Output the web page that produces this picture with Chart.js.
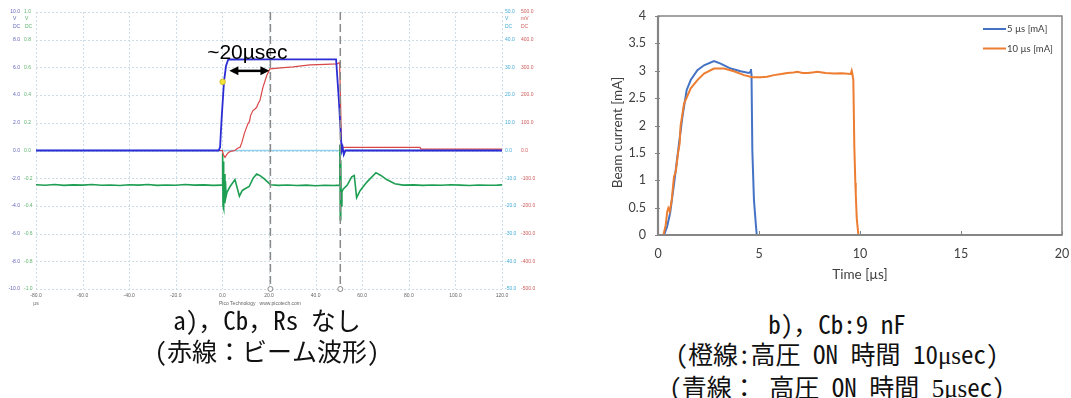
<!DOCTYPE html>
<html><head><meta charset="utf-8">
<script src="https://cdn.jsdelivr.net/npm/chart.js@4.4.1/dist/chart.umd.min.js"></script>
<style>
html,body{margin:0;padding:0;background:#fff;width:1071px;height:398px;overflow:hidden;position:relative;}
#c1{position:absolute;left:0;top:0;}
#c2{position:absolute;left:550px;top:0;}
.cap{position:absolute;font-family:"Noto Sans Mono CJK JP","Noto Sans CJK JP",monospace;font-size:25px;color:#111;text-align:center;white-space:pre;}
.mu{font-family:"Liberation Serif","DejaVu Serif",serif;}
</style></head><body>
<canvas id="c1" width="545" height="312"></canvas>
<canvas id="c2" width="521" height="300"></canvas>
<div class="cap" style="left:67px;top:304px;width:400px;line-height:31px;">a)，Cb，Rs なし<br>(赤線：ビーム波形)</div>
<div class="cap" style="left:637px;top:308px;width:400px;line-height:30px;">b)，Cb:9 nF<br>(橙線:高圧 ON 時間 10<span class="mu">μs</span>ec)<br>(青線： 高圧 ON 時間 <span class="mu">5μs</span>ec)</div>
<script>
// ---------- (a) oscilloscope data ----------
const oscXTicks = [-80,-60,-40,-20,0,20,40,60,80,100,120];
const oscXLabels = ['-80.0','-60.0','-40.0','-20.0','0.0','20.0','40.0','60.0','80.0','100.0','120.0'];
const oscVTicks = [10,8,6,4,2,0,-2,-4,-6,-8,-10];
const oscVLabels = ['10.0','8.0','6.0','4.0','2.0','0.0','-2.0','-4.0','-6.0','-8.0','-10.0'];
const oscGLabels = ['1.0','0.8','0.6','0.4','0.2','0.0','-0.2','-0.4','-0.6','-0.8','-1.0'];
const oscCLabels = ['50.0','40.0','30.0','20.0','10.0','0.0','-10.0','-20.0','-30.0','-40.0','-50.0'];
const oscRLabels = ['500.0','400.0','300.0','200.0','100.0','0.0','-100.0','-200.0','-300.0','-400.0','-500.0'];

const blueTime = [-80,-1.6,-1.0,-0.3,0.7,1.55,2.5,20,48.8,50.0,51.2,51.6,52.1,52.8,120];
const blueVolt = [0,0,0.24,2.4,5.0,6.1,6.57,6.58,6.58,3.6,0,0.25,-0.3,0,0];

const redTime = [-80,0,0.4,1.1,2.3,3.5,5.4,6.5,7.6,8.4,9.4,10.2,11.0,11.6,12.1,13.1,14.0,14.7,15.5,16.1,17.4,19.0,20.4,25,30.3,37.6,44,49.2,50.3,50.7,51.1,52,84.8,85.2,120];
const redMilliVolt = [0,0,-15,-25,-10,-3,0,8,12,30,61,80,97,104,126,144,150,156,172,180,228,270,295,298,302,309,311,313,317,180,14,11,11,5,5];

const greenTime = [-80,-76,-72,-68,-64,-60,-56,-52,-48,-44,-40,-36,-32,-28,-24,-20,-16,-12,-8,-4,-0.4,
  0.0,0.1,0.26,0.45,0.65,0.85,1.1,1.3,1.6,2.0,3.3,5.4,7.3,8.5,9.7,11.5,13.2,14.7,16,17.6,20.7,
  24,28,32,36,40,44,48,50.2,
  50.4,50.6,50.8,51.0,51.3,51.8,53.6,55.5,56.6,57.6,59.1,61.9,65.9,68,70.5,74,77.6,
  82,86,90,94,98,102,106,110,114,118,120];
const greenVolt = [-0.247,-0.251,-0.246,-0.252,-0.248,-0.25,-0.245,-0.251,-0.249,-0.253,-0.247,-0.25,-0.246,-0.252,-0.249,-0.251,-0.246,-0.25,-0.248,-0.252,-0.25,
  -0.25,-0.02,-0.40,-0.08,-0.42,-0.17,-0.38,-0.22,-0.33,-0.30,-0.26,-0.21,-0.33,-0.29,-0.276,-0.26,-0.20,-0.17,-0.18,-0.20,-0.247,
  -0.252,-0.249,-0.253,-0.25,-0.254,-0.251,-0.253,-0.25,
  0.04,-0.50,-0.07,-0.40,-0.30,-0.28,-0.25,-0.19,-0.18,-0.34,-0.29,-0.23,-0.16,-0.18,-0.21,-0.24,-0.25,
  -0.248,-0.252,-0.249,-0.251,-0.247,-0.25,-0.253,-0.249,-0.251,-0.25,-0.248];

const cyanTime = [-80,120];
const cyanVolt = [0,0];

const cursorTimes = [20.6,50.6];
const arrowSpan = [3.0,20.2];
const arrowLevel = 5.75;
const noteText = '~20µsec';
const notePos = [10.7,6.6];
const markerPos = [0.1,4.96];

// ---------- (b) beam current data ----------
const beamXTicks = [0,5,10,15,20];
const beamYTicks = [0,0.5,1,1.5,2,2.5,3,3.5,4];
const beamYLabels = ['0','0.5','1','1.5','2','2.5','3','3.5','4'];
const seriesNames = ['5 µs [mA]','10 µs [mA]'];

const time5us = [0,0.3,0.45,0.6,0.8,1.0,1.21,1.42,1.62,1.95,2.28,2.77,3.1,3.6,4.09,4.5,4.57,4.6,4.63,4.67,4.75,4.84,4.89,5.0];
const current5us = [0,0,0.15,0.4,0.95,1.55,2.16,2.65,2.83,3.01,3.1,3.175,3.13,3.04,2.99,2.96,2.98,3.03,2.92,1.55,0.64,0.21,0,0];

const time10us = [0,0.05,0.27,0.38,0.46,0.51,0.58,0.68,0.79,0.88,0.99,1.07,1.12,1.29,1.62,1.95,2.28,2.77,3.27,3.76,4.26,4.67,5.08,5.4,5.74,6.1,6.4,6.7,6.9,7.15,7.4,7.65,7.89,8.3,8.71,9.1,9.54,9.59,9.62,9.67,9.72,9.77,9.79,9.84,9.92,10.0];
const current10us = [0,0,0,0.18,0.43,0.49,0.43,0.64,1.06,1.16,1.49,1.67,2.0,2.4,2.68,2.83,2.95,3.04,3.04,2.99,2.92,2.88,2.88,2.89,2.92,2.94,2.96,2.97,2.98,2.96,2.96,2.97,2.98,2.96,2.95,2.955,2.94,3.0,2.95,2.83,1.6,0.95,0.75,0.3,0,0];

const pts = (xs, ys) => xs.map((x,i)=>({x:x,y:ys[i]}));

// ---------- chart (a) ----------
const oscPlugin = {
  id:'osc',
  beforeDatasetsDraw(chart){
    const {ctx, chartArea:a, scales:{x,y}} = chart;
    ctx.save();
    ctx.strokeStyle='#cddde8'; ctx.lineWidth=1; ctx.setLineDash([2,2]);
    oscXTicks.forEach(v=>{const px=Math.round(x.getPixelForValue(v))+0.5; ctx.beginPath(); ctx.moveTo(px,a.top); ctx.lineTo(px,a.bottom); ctx.stroke();});
    oscVTicks.forEach(v=>{const py=Math.round(y.getPixelForValue(v))+0.5; ctx.beginPath(); ctx.moveTo(a.left,py); ctx.lineTo(a.right,py); ctx.stroke();});
    ctx.restore();
  },
  afterDatasetsDraw(chart){
    const {ctx, chartArea:a, scales:{x,y}} = chart;
    ctx.save();
    ctx.strokeStyle='#8a8a8a'; ctx.lineWidth=1.5; ctx.setLineDash([8,4]);
    cursorTimes.forEach(t=>{const px=x.getPixelForValue(t); ctx.beginPath(); ctx.moveTo(px,a.top); ctx.lineTo(px,a.bottom-4); ctx.stroke();});
    ctx.setLineDash([]); ctx.lineWidth=1;
    cursorTimes.forEach(t=>{const px=x.getPixelForValue(t); ctx.beginPath(); ctx.arc(px,a.bottom,2.5,0,Math.PI*2); ctx.fillStyle='#fff'; ctx.fill(); ctx.stroke();});
    const x0=x.getPixelForValue(arrowSpan[0]), x1=x.getPixelForValue(arrowSpan[1]), ay=y.getPixelForValue(arrowLevel);
    ctx.strokeStyle='#000'; ctx.fillStyle='#000'; ctx.lineWidth=2.5;
    ctx.beginPath(); ctx.moveTo(x0+6,ay); ctx.lineTo(x1-6,ay); ctx.stroke();
    ctx.beginPath(); ctx.moveTo(x0,ay); ctx.lineTo(x0+9,ay-4.5); ctx.lineTo(x0+9,ay+4.5); ctx.closePath(); ctx.fill();
    ctx.beginPath(); ctx.moveTo(x1,ay); ctx.lineTo(x1-9,ay-4.5); ctx.lineTo(x1-9,ay+4.5); ctx.closePath(); ctx.fill();
    ctx.font='21px "Liberation Sans", Arial, sans-serif'; ctx.textAlign='center'; ctx.textBaseline='alphabetic';
    ctx.fillText(noteText, x.getPixelForValue(notePos[0]), y.getPixelForValue(notePos[1]));
    ctx.beginPath(); ctx.arc(x.getPixelForValue(markerPos[0]), y.getPixelForValue(markerPos[1]), 2.8, 0, Math.PI*2);
    ctx.fillStyle='#f2e23a'; ctx.fill(); ctx.strokeStyle='#c8b820'; ctx.lineWidth=0.8; ctx.stroke();
    ctx.font='5px "Liberation Sans", Arial, sans-serif'; ctx.textBaseline='middle';
    oscVTicks.forEach((v,i)=>{
      const py=y.getPixelForValue(v);
      ctx.textAlign='right'; ctx.fillStyle='#6464bc'; ctx.fillText(oscVLabels[i],20,py);
      ctx.textAlign='left'; ctx.fillStyle='#5cb46c'; ctx.fillText(oscGLabels[i],24,py);
      ctx.fillStyle='#44acd8'; ctx.fillText(oscCLabels[i],a.right+3,py);
      ctx.fillStyle='#cc5a5a'; ctx.fillText(oscRLabels[i],a.right+19,py);
    });
    const ty=y.getPixelForValue(oscVTicks[0]);
    ctx.textAlign='left';
    ctx.fillStyle='#6464bc'; ctx.fillText('V',13,ty+7); ctx.fillText('DC',13,ty+15);
    ctx.fillStyle='#5cb46c'; ctx.fillText('V',25,ty+7); ctx.fillText('DC',25,ty+15);
    ctx.fillStyle='#44acd8'; ctx.fillText('V',a.right+3,ty+7); ctx.fillText('DC',a.right+3,ty+15);
    ctx.fillStyle='#cc5a5a'; ctx.fillText('mV',a.right+19,ty+7); ctx.fillText('DC',a.right+19,ty+15);
    ctx.fillStyle='#666'; ctx.textAlign='center';
    oscXTicks.forEach((v,i)=>ctx.fillText(oscXLabels[i], x.getPixelForValue(v), a.bottom+7));
    ctx.fillText('µs', x.getPixelForValue(oscXTicks[0]), a.bottom+15);
    ctx.fillText('Pico Technology   www.picotech.com', (a.left+a.right)/2-9, a.bottom+15);
    ctx.restore();
  }
};

new Chart(document.getElementById('c1'), {
  type:'line',
  data:{datasets:[
    {data:pts(blueTime,blueVolt), borderColor:'#2c2cd4', borderWidth:1.8, yAxisID:'y', order:0},
    {data:pts(redTime,redMilliVolt), borderColor:'#d84848', borderWidth:1.2, yAxisID:'yR', order:1},
    {data:pts(greenTime,greenVolt), borderColor:'#1e9e52', borderWidth:1.6, yAxisID:'yG', order:2},
    {data:pts(cyanTime,cyanVolt), borderColor:'#92d2ea', borderWidth:1.5, yAxisID:'yC', order:3}
  ]},
  options:{
    responsive:false, animation:false, devicePixelRatio:1,
    layout:{padding:{left:36,right:43,top:12,bottom:23}},
    elements:{point:{radius:0}, line:{tension:0}},
    plugins:{legend:{display:false}, tooltip:{enabled:false}},
    scales:{
      x:{type:'linear', min:-80, max:120, display:false},
      y:{min:-10, max:10, display:false},
      yG:{min:-1, max:1, display:false},
      yC:{min:-50, max:50, display:false},
      yR:{min:-500, max:500, display:false}
    }
  },
  plugins:[oscPlugin]
});

// ---------- chart (b) ----------
const beamPlugin = {
  id:'beam',
  afterDatasetsDraw(chart){
    const {ctx, chartArea:a, scales:{x,y}} = chart;
    ctx.save();
    ctx.strokeStyle='#858585'; ctx.lineWidth=1.5;
    ctx.strokeRect(a.left, a.top, a.right-a.left, a.bottom-a.top);
    ctx.lineWidth=2.2;
    ctx.beginPath(); ctx.moveTo(a.left,a.top); ctx.lineTo(a.left,a.bottom); ctx.lineTo(a.right,a.bottom); ctx.stroke();
    ctx.lineWidth=1;
    beamYTicks.forEach(v=>{const py=Math.round(y.getPixelForValue(v))+0.5; ctx.beginPath(); ctx.moveTo(a.left-3,py); ctx.lineTo(a.left+2,py); ctx.stroke();});
    beamXTicks.forEach(v=>{const px=Math.round(x.getPixelForValue(v))+0.5; ctx.beginPath(); ctx.moveTo(px,a.bottom-4); ctx.lineTo(px,a.bottom); ctx.stroke();});
    ctx.fillStyle='#404040';
    ctx.font='12.5px Lato, "Noto Sans", sans-serif';
    ctx.textAlign='right'; ctx.textBaseline='middle';
    beamYTicks.forEach((v,i)=>ctx.fillText(beamYLabels[i], a.left-12, y.getPixelForValue(v)));
    ctx.textAlign='center';
    beamXTicks.forEach(v=>ctx.fillText(String(v), x.getPixelForValue(v), a.bottom+19));
    ctx.font='13.5px Lato, "Noto Sans", sans-serif';
    ctx.fillText('Time [µs]', (a.left+a.right)/2, a.bottom+40);
    ctx.save(); ctx.translate(a.left-40,(a.top+a.bottom)/2 + 7); ctx.rotate(-Math.PI/2);
    ctx.fillText('Beam current [mA]',0,0); ctx.restore();
    const cols=['#4472c4','#ed7d31'];
    ctx.font='9.5px Lato, "Noto Sans", sans-serif'; ctx.textAlign='left';
    seriesNames.forEach((n,i)=>{
      const ly=a.top+13+i*19.5;
      ctx.strokeStyle=cols[i]; ctx.lineWidth=2;
      ctx.beginPath(); ctx.moveTo(a.right-79,ly); ctx.lineTo(a.right-56,ly); ctx.stroke();
      ctx.fillStyle='#404040'; ctx.fillText(n, a.right-55, ly);
    });
    ctx.restore();
  }
};

new Chart(document.getElementById('c2'), {
  type:'line',
  data:{datasets:[
    {label:seriesNames[0], data:pts(time5us,current5us), borderColor:'#4472c4', borderWidth:2, order:1},
    {label:seriesNames[1], data:pts(time10us,current10us), borderColor:'#ed7d31', borderWidth:2, order:0}
  ]},
  options:{
    responsive:false, animation:false, devicePixelRatio:1,
    layout:{padding:{left:108,right:9,top:16,bottom:65}},
    elements:{point:{radius:0}, line:{tension:0}},
    plugins:{legend:{display:false}, tooltip:{enabled:false}},
    scales:{
      x:{type:'linear', min:0, max:20, display:false},
      y:{min:0, max:4, display:false}
    }
  },
  plugins:[beamPlugin]
});
</script>
</body></html>
